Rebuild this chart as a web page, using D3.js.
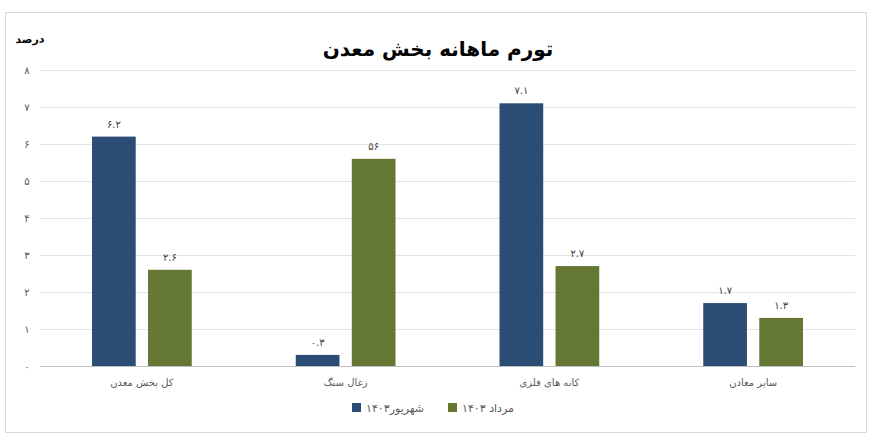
<!DOCTYPE html>
<html><head><meta charset="utf-8">
<script src="https://cdn.jsdelivr.net/npm/d3@7"></script>
<style>body{margin:0;background:#fff;font-family:"DejaVu Sans","Noto Sans",sans-serif}</style>
</head><body>
<div id="chart"></div>
<script>
// data
const categories = ["کل بخش معدن", "زغال سنگ", "کانه های فلزی", "سایر معادن"];
const seriesNames = ["شهریور۱۴۰۳", "مرداد ۱۴۰۳"];
const shahrivar = [6.2, 0.3, 7.1, 1.7];
const mordad = [2.6, 5.6, 2.7, 1.3];
const valueLabels = [["۶.۲", "۰.۳", "۷.۱", "۱.۷"], ["۲.۶", "۵۶", "۲.۷", "۱.۳"]];
const yTicks = [0, 1, 2, 3, 4, 5, 6, 7, 8];
const colors = ["#2b4c74", "#647733"];

const fa = n => String(n).replace(/\d/g, d => "۰۱۲۳۴۵۶۷۸۹"[d]);

const W = 877, H = 443;
const margin = {top: 70, right: 22, bottom: 77, left: 40};
const svg = d3.select("#chart").append("svg").attr("width", W).attr("height", H);

svg.append("rect").attr("x", 5.5).attr("y", 12.5).attr("width", 861).attr("height", 420)
    .attr("fill", "none").attr("stroke", "#d9d9d9");

const x0 = d3.scaleBand().domain(categories).range([margin.left, W - margin.right]);
const x1 = d3.scaleBand().domain([0, 1]).range([52, x0.bandwidth() - 52]).paddingInner(0.22);
const y = d3.scaleLinear().domain([0, 8]).range([H - margin.bottom, margin.top]);

// grid
svg.append("g").selectAll("line").data(yTicks).join("line")
    .attr("x1", margin.left).attr("x2", W - margin.right)
    .attr("y1", d => y(d) + 0.5).attr("y2", d => y(d) + 0.5)
    .attr("stroke", d => d === 0 ? "#bfbfbf" : "#e3e3e3");

svg.append("g").selectAll("text").data(yTicks).join("text")
    .attr("x", 27).attr("y", d => y(d) + 4).attr("text-anchor", "middle")
    .attr("font-size", 10).attr("fill", "#595959").text(d => fa(d));

const series = [shahrivar, mordad];
series.forEach((vals, s) => {
    const g = svg.append("g");
    g.selectAll("rect").data(vals).join("rect")
        .attr("x", (d, i) => x0(categories[i]) + x1(s))
        .attr("width", x1.bandwidth())
        .attr("y", d => y(d)).attr("height", d => y(0) - y(d))
        .attr("fill", colors[s]);
    g.selectAll("text").data(vals).join("text")
        .attr("x", (d, i) => x0(categories[i]) + x1(s) + x1.bandwidth() / 2)
        .attr("y", d => y(d) - 9).attr("text-anchor", "middle")
        .attr("font-size", 10).attr("fill", "#404040")
        .text((d, i) => valueLabels[s][i]);
});

svg.append("g").selectAll("text").data(categories).join("text")
    .attr("x", d => x0(d) + x0.bandwidth() / 2).attr("y", y(0) + 20)
    .attr("text-anchor", "middle").attr("font-size", 10).attr("fill", "#595959")
    .text(d => d);

svg.append("text").attr("x", 438).attr("y", 56).attr("text-anchor", "middle")
    .attr("font-size", 20).attr("font-weight", "bold").attr("fill", "#000")
    .text("تورم ماهانه بخش معدن");

svg.append("text").attr("x", 30).attr("y", 43).attr("text-anchor", "middle")
    .attr("font-size", 11).attr("font-weight", "bold").attr("fill", "#000").text("درصد");

// legend
const legendX = [352, 448];
seriesNames.forEach((n, s) => {
    svg.append("rect").attr("x", legendX[s]).attr("y", 403).attr("width", 9).attr("height", 9).attr("fill", colors[s]);
    svg.append("text").attr("x", legendX[s] + 14).attr("y", 412).attr("font-size", 11)
        .attr("fill", "#595959").attr("text-anchor", "start").attr("direction", "ltr")
        .text(n);
});
</script>
</body></html>
